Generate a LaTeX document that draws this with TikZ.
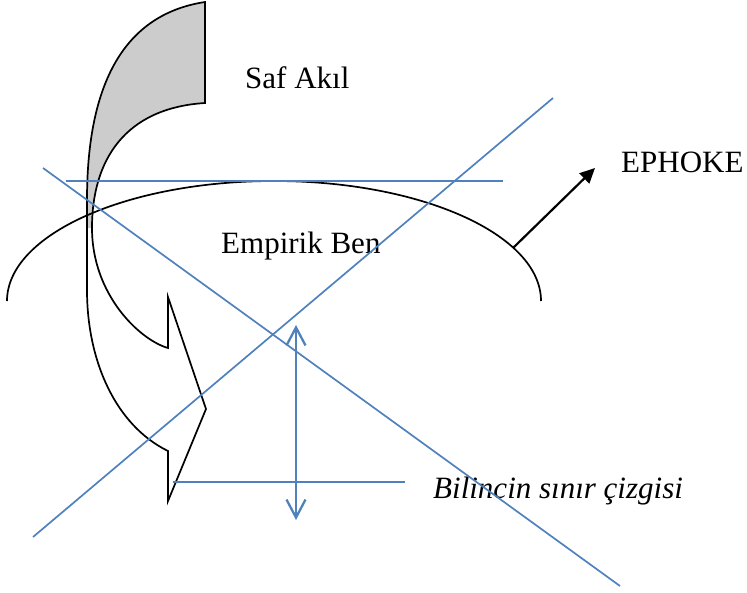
\documentclass[tikz,border=0pt]{standalone}
\usepackage{fontspec}
\setmainfont{Liberation Serif}
\usetikzlibrary{arrows.meta}
\definecolor{wblue}{RGB}{79,129,189}
\begin{document}
\begin{tikzpicture}[x=1pt,y=-1pt,
  blk/.style={draw=black,line width=1.7pt},
  bl/.style={draw=wblue,line width=1.7pt},
  lbl/.style={anchor=base west,inner sep=0pt,font=\fontsize{31}{36}\selectfont}]
\useasboundingbox (0,0) rectangle (747,592);
% curved arrow: shaded back part
\fill[black!20] (205,2) .. controls (120,15) and (87,90) .. (87,200) -- (87,228) -- (92,228)
  .. controls (92,160) and (125,108) .. (205,103) -- cycle;
% curved arrow outline
\draw[blk,line join=miter] (205,2) -- (205,103)
  .. controls (125,108) and (92,160) .. (92,228)
  .. controls (92,295) and (140,340) .. (168,348)
  -- (168,297) -- (206,409) -- (168,501) -- (168,451)
  .. controls (115,425) and (87,360) .. (87,290)
  -- (87,200) .. controls (87,90) and (120,15) .. (205,2) -- cycle;
% half ellipse
\draw[blk] (7,301) arc[start angle=180,end angle=360,x radius=267,y radius=120];
% EPHOKE arrow
\coordinate (e1) at (513,248);
\coordinate (e2) at (595,168);
\draw[line width=2.2pt,-{Triangle[length=15pt,width=14pt]}] (e1) -- (e2);
% labels
\node[lbl] (saf) at (245,88) {Saf Akıl};
\node[lbl] (emp) at (221,253) {Empirik Ben};
\node[lbl] (eph) at (621,172) {EPHOKE};
\node[lbl,font=\fontsize{31}{36}\selectfont\itshape] (bil) at (433,498) {Bilincin sınır çizgisi};
% blue lines
\coordinate (d1) at (43,168);
\coordinate (d2) at (620,586);
\coordinate (a1) at (33,537);
\coordinate (a2) at (553,98);
\coordinate (h1) at (66,181);
\coordinate (h2) at (503,181);
\coordinate (g1) at (173,482);
\coordinate (g2) at (405,482);
\coordinate (v1) at (296,325);
\coordinate (v2) at (296,520);
\draw[bl] (d1) -- (d2);
\draw[bl] (a1) -- (a2);
\draw[bl] (h1) -- (h2);
\draw[bl] (g1) -- (g2);
\draw[bl,line width=2.3pt,{Straight Barb[length=18pt,width=19pt]}-{Straight Barb[length=18pt,width=19pt]}] (v1) -- (v2);
\end{tikzpicture}
\end{document}
